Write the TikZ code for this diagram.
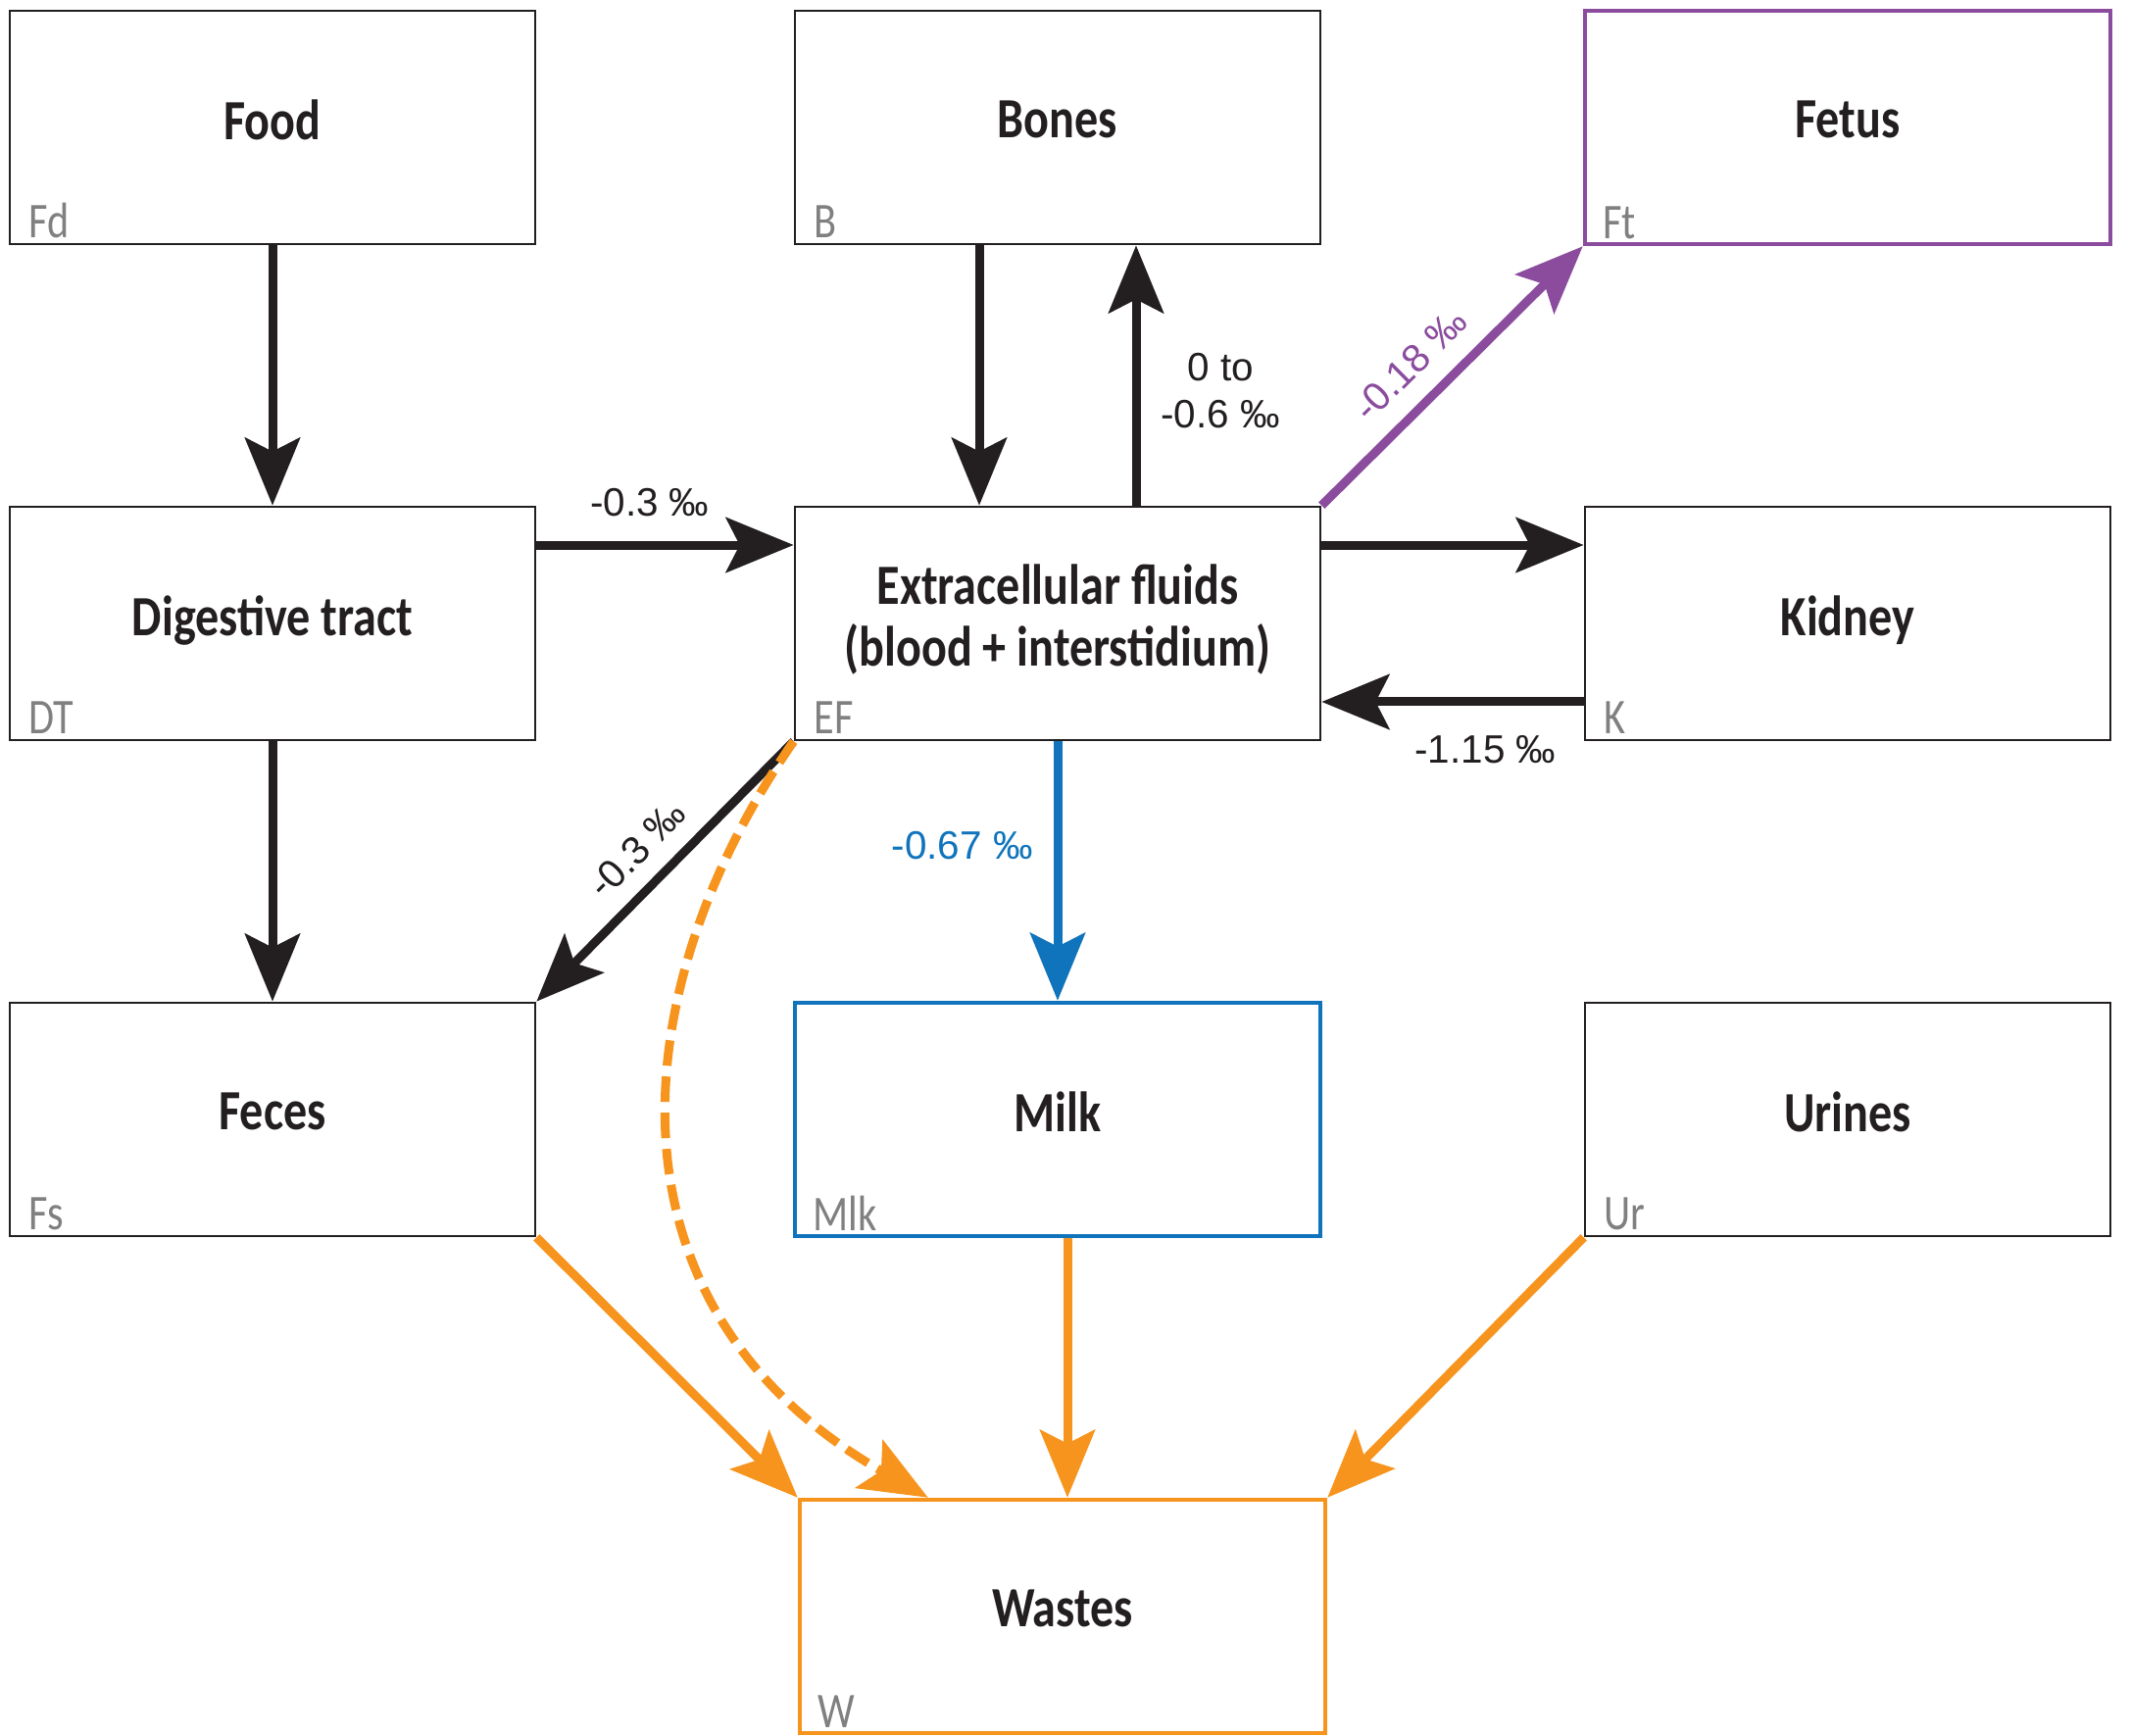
\documentclass[tikz,border=0pt]{standalone}
\usepackage{fontspec}
\usepackage{tikz}
\usetikzlibrary{arrows.meta}
\newfontfamily\boxfont[FakeStretch=0.83]{Carlito}
\newfontfamily\numfont{Liberation Sans}
\definecolor{ink}{HTML}{231F20}
\definecolor{fetusp}{HTML}{8B4C9E}
\definecolor{milkb}{HTML}{1074BC}
\definecolor{wasteo}{HTML}{F7941E}
\definecolor{tagg}{HTML}{808080}
\tikzset{
  compnode/.style = {rectangle, align=center, inner sep=0pt, text=ink,
    minimum width=53.6mm, minimum height=23.8mm, text depth=1.6mm,
    font=\boxfont\bfseries\fontsize{16.5}{18}\selectfont},
  comp_k/.style = {compnode, draw=ink, line width=0.27mm},% compartiment, noir
  comp_p/.style = {compnode, draw=fetusp, line width=0.45mm},% foetus, violet
  comp_b/.style = {compnode, draw=milkb, line width=0.45mm},% lait, bleu
  comp_o/.style = {compnode, draw=wasteo, line width=0.45mm},% dechets, orange
  cmpt_tag/.style = {anchor=base west, inner sep=0pt, text=tagg,
    font=\boxfont\fontsize{14.5}{16}\selectfont, xshift=2mm, yshift=0.8mm},
  flux/.style = {line width=0.9mm, draw=ink,
    -{Stealth[length=6.9mm, width=5.6mm, inset=1.4mm]}},
  dval/.style = {inner sep=0.5mm, text=ink,
    font=\numfont\fontsize{11.5}{13.6}\selectfont, align=center}
}

\begin{document}
\begin{tikzpicture} [x=0.1mm, y=-0.1mm]
		\fill [white] (0,0) rectangle (2173,1771);
		% compartiments
		\node [comp_k] (Fd) at (278,130) {Food};
		\node [comp_k] (B) at (1079,130) {Bones};
		\node [comp_p] (Ft) at (1885,130) {Fetus};
		\node [comp_k] (DT) at (278,636) {Digestive tract};
		\node [comp_k] (EF) at (1079,636) {Extracellular fluids\\(blood + interstidium)};
		\node [comp_k] (K) at (1885,636) {Kidney};
		\node [comp_k] (Fs) at (278,1142) {Feces};
		\node [comp_b] (Mlk) at (1079,1142) {Milk};
		\node [comp_k] (Ur) at (1885,1142) {Urines};
		\node [comp_o] (W) at (1084,1649) {Wastes};
		\foreach \n in {Fd,B,Ft,DT,EF,K,Fs,Mlk,Ur,W}
			\node [cmpt_tag] (t\n) at (\n.south west) {\n};
		% flux
		\draw [flux] (Fd) -- (DT);
		\draw [flux] (DT) -- (Fs);
		\draw [flux] ([xshift=-8mm]B.south) -- ([xshift=-8mm]EF.north);
		\draw [flux] ([xshift=8mm]EF.north) -- node [dval, right=1.6mm, pos=0.44] (lB) {0 to\\-0.6 ‰} ([xshift=8mm]B.south);
		\draw [flux] ([yshift=8mm]DT.east) -- node [dval, above=2mm, pos=0.44] (lDT) {-0.3 ‰} ([yshift=8mm]EF.west);
		\draw [flux] ([yshift=8mm]EF.east) -- ([yshift=8mm]K.west);
		\draw [flux] ([yshift=-8mm]K.west) -- node [dval, below=2.5mm, pos=0.375] (lK) {-1.15 ‰} ([yshift=-8mm]EF.east);
		\draw [flux, draw=fetusp] (EF.north east) -- node [dval, text=fetusp, sloped, above=1.5mm, pos=0.44] (lFt) {-0.18 ‰} (Ft.south west);
		\draw [flux] (EF.south west) -- node [dval, sloped, above=1.3mm, pos=0.51] (lFs) {-0.3 ‰} (Fs.north east);
		\draw [flux, draw=milkb] (EF) -- node [dval, text=milkb, left=1.6mm, pos=0.4] (lMlk) {-0.67 ‰} (Mlk);
		% vers les dechets
		\draw [flux, draw=wasteo] (Fs.south east) -- (W.north west);
		\draw [flux, draw=wasteo] ([xshift=1mm]Mlk.south) -- ([xshift=1mm]Mlk.south |- W.north);
		\draw [flux, draw=wasteo] (Ur.south west) -- (W.north east);
		\draw [flux, draw=wasteo, dash pattern=on 2.6mm off 1.1mm] (EF.south west)
			.. controls (640,1000) and (600,1330) .. ([xshift=13.3mm]W.north west);
\end{tikzpicture}
\end{document}
